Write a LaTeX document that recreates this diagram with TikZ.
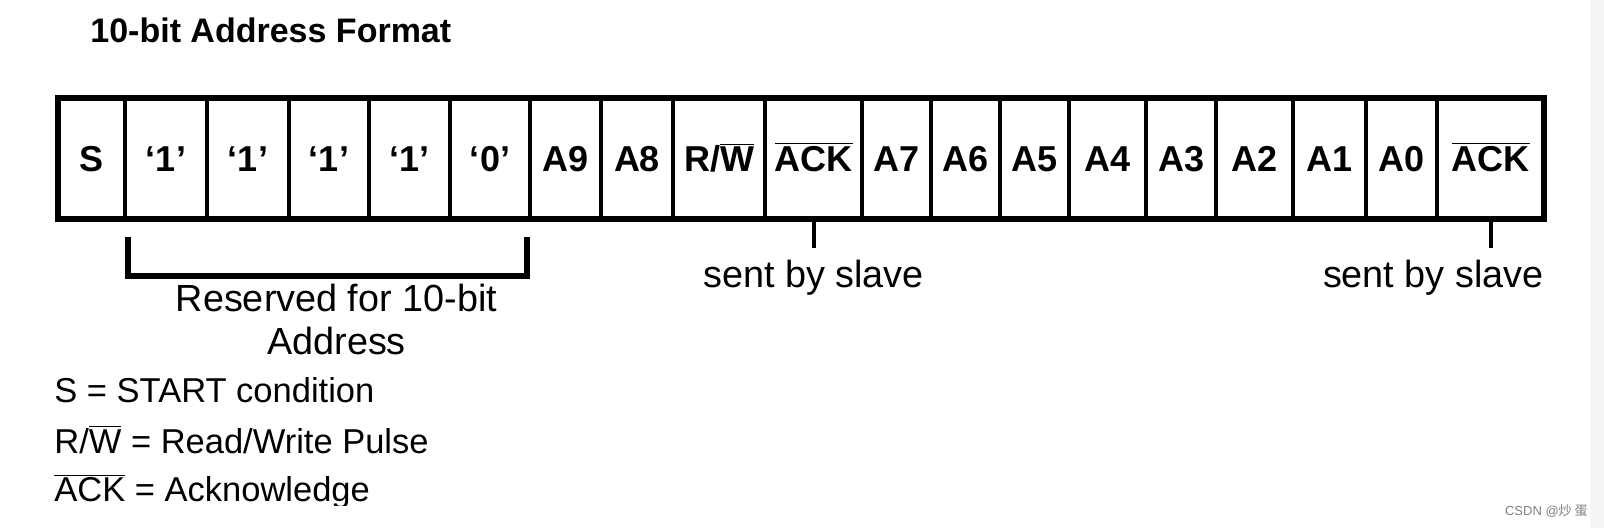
\documentclass[tikz,border=0pt]{standalone}
\usepackage{fontspec}
\setmainfont{Liberation Sans}
\newfontfamily\cjkfont{Noto Sans CJK SC}
\usetikzlibrary{positioning,calc}
\definecolor{sideband}{HTML}{F4F5F7}
\newcommand{\nbar}[1]{$\overline{\mbox{#1}}$}
\tikzset{
  cell/.style={%
    draw,line width=2pt,
    minimum height=60.5pt,
    inner sep=0pt,outer sep=0pt,
    text height=13pt,text depth=0pt,
    font=\bfseries\fontsize{18}{20}\selectfont,
  },
  frame/.style={line width=3pt},
  tick/.style={line width=2pt},
  bracket/.style={line width=3pt},
  note/.style={%
    inner sep=0pt,
    font=\fontsize{18.9}{20}\selectfont,
  },
  legend/.style={%
    inner sep=0pt,anchor=base west,
    font=\fontsize{17.25}{20}\selectfont,
  },
}

\begin{document}
\begin{tikzpicture}[x=0.5pt,y=-0.5pt]
\useasboundingbox[fill=white] (0,0) rectangle (1604,528);
\fill[sideband] (1590,0) rectangle (1604,528);

\node[inner sep=0pt,anchor=base west,font=\bfseries\fontsize{17}{20}\selectfont]
  (title) at (90,43) {10-bit Address Format};

% the frame, one cell per bit
\foreach \r/\t [count=\i, remember=\r as \l (initially 58)] in
  {125/S, 207/‘1’, 289/‘1’, 369/‘1’, 450/‘1’, 530/‘0’, 601/A9, 673/A8,
   765/{R/\nbar{W}}, 862/\nbar{ACK}, 931/A7, 1000/A6, 1069/A5, 1146/A4,
   1216/A3, 1293/A2, 1366/A1, 1437/A0, 1544/\nbar{ACK}}
  \node[cell,minimum width={(\r-\l)*0.5pt}] (c\i) at ({(\l+\r)/2},158.5) {\t};
\draw[frame] (c1.north west) rectangle (c19.south east);

% acknowledge bits
\draw[tick] (c10.south) -- ++(0,29) coordinate (ack1);
\draw[tick] (c19.south) -- ++(0,29) coordinate (ack2);
\coordinate (slv) at (0,288);
\node[note,anchor=base] (sent1) at (ack1 |- slv) {sent by slave};
\node[note,anchor=base east] (sent2) at (c19.east |- slv) {sent by slave};

% reserved bits
\coordinate (bl) at ([xshift=1.5pt,yshift=-9pt]c2.south west);
\coordinate (br) at ([xshift=-1.5pt,yshift=-9pt]c6.south east);
\coordinate (brk) at (0,276);
\coordinate (mid) at ($(bl)!0.5!(br)$);
\draw[bracket] (bl) -- (bl |- brk) -- (br |- brk) -- (br);
\node[note,anchor=base] (rsv) at ([xshift=4.5pt]mid |- 0,312) {Reserved for 10-bit};
\node[note,anchor=base] (rsvb) at ([xshift=4.5pt]mid |- 0,355) {Address};

% legend
\begin{scope}
  \clip (0,360) rectangle (700,505);
  \node[legend] (lgs) at (54,403) {S = START condition};
  \node[legend] (lgrw) at (54,453) {R/\nbar{W} = Read/Write Pulse};
  \node[legend] (lgack) at (54,502) {\nbar{ACK} = Acknowledge};
\end{scope}

\node[inner sep=0pt,anchor=base east,text=gray,font=\fontsize{6.5}{7}\selectfont]
  (mark) at (1588,515) {CSDN @{\cjkfont 炒 蛋}};
\end{tikzpicture}
\end{document}
